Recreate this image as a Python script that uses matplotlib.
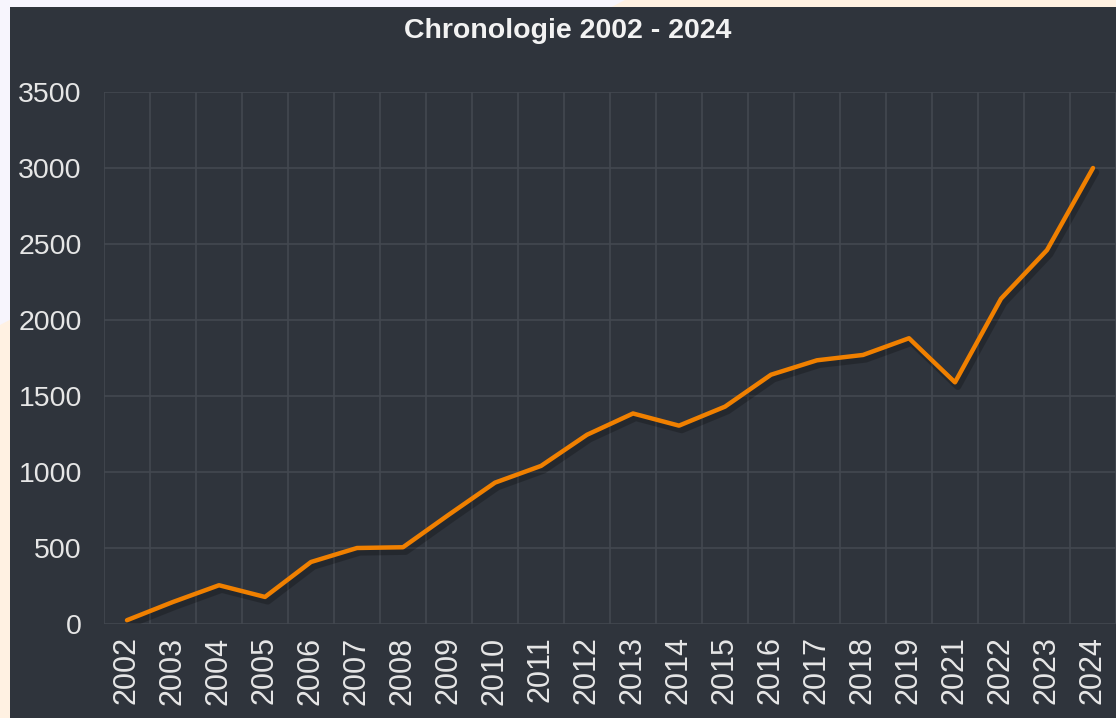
import matplotlib
matplotlib.use("Agg")
import matplotlib.pyplot as plt
import matplotlib.patheffects as pe
from matplotlib.patches import Rectangle, Polygon

# Data (no 2020 in the source)
years = ["2002", "2003", "2004", "2005", "2006", "2007", "2008", "2009", "2010",
         "2011", "2012", "2013", "2014", "2015", "2016", "2017", "2018", "2019",
         "2021", "2022", "2023", "2024"]
counts = [25, 145, 255, 178, 408, 500, 505, 720, 930,
          1040, 1245, 1385, 1305, 1430, 1640, 1735, 1770, 1880,
          1590, 2140, 2460, 3000]
y_ticks = [0, 500, 1000, 1500, 2000, 2500, 3000, 3500]

title = "Chronologie 2002 - 2024"

# Colours
panel_bg = "#2f343c"
grid_col = "#434850"
line_col = "#f08000"
text_col = "#e6e6e6"
lavender = "#f7f5fd"
peach = "#fff1e2"

W, H = 1116, 718
fig = plt.figure(figsize=(W / 100, H / 100), dpi=100)
fig.patch.set_facecolor(lavender)

# peach backdrop behind the panel, then the dark panel
fig.add_artist(Polygon([(625 / W, 1.0), (1.0, 1.0), (1.0, 0.0), (0.0, 0.0), (0.0, 1 - 325 / H)],
                       closed=True, transform=fig.transFigure, facecolor=peach,
                       edgecolor="none", zorder=0))
fig.add_artist(Rectangle((10 / W, 0.0), 1 - 10 / W, (H - 7) / H, transform=fig.transFigure,
                         facecolor=panel_bg, edgecolor="none", zorder=1))

ax = fig.add_axes([104 / W, (H - 624) / H, 1 - 104 / W, (624 - 92) / H])
ax.set_facecolor(panel_bg)
ax.set_zorder(2)

x = list(range(len(years)))
ax.plot(x, counts, color=line_col, lw=3.2, solid_joinstyle="round", solid_capstyle="round",
        zorder=3,
        path_effects=[pe.SimpleLineShadow(offset=(2, -3), shadow_color="black", alpha=0.22,
                                          linewidth=5),
                      pe.Normal()])

ax.set_xlim(-0.5, len(years) - 0.5)
ax.set_ylim(0, 3500)

# grid: column boundaries and 500 steps
for b in range(len(years) + 1):
    ax.axvline(b - 0.5, color=grid_col, lw=1.2, zorder=1)
for v in y_ticks:
    ax.axhline(v, color=grid_col, lw=1.2, zorder=1)

ax.set_xticks(x)
ax.set_xticklabels(years, rotation=90, color=text_col, fontsize=22,
                   family=["Liberation Sans", "DejaVu Sans"])
ax.set_yticks(y_ticks)
ax.set_yticklabels([str(v) for v in y_ticks], color=text_col, fontsize=20.5,
                   family=["Liberation Sans", "DejaVu Sans"])
ax.tick_params(axis="x", length=0, pad=9)
ax.tick_params(axis="y", length=0, pad=16)
for s in ax.spines.values():
    s.set_visible(False)

fig.text(568 / W, 1 - 31 / H, title, ha="center", va="center", color="#f2f2f2",
         fontsize=20.5, fontweight="bold",
         family=["Liberation Sans", "DejaVu Sans"], zorder=5)

fig.savefig("out.png", dpi=100, facecolor=fig.get_facecolor())
